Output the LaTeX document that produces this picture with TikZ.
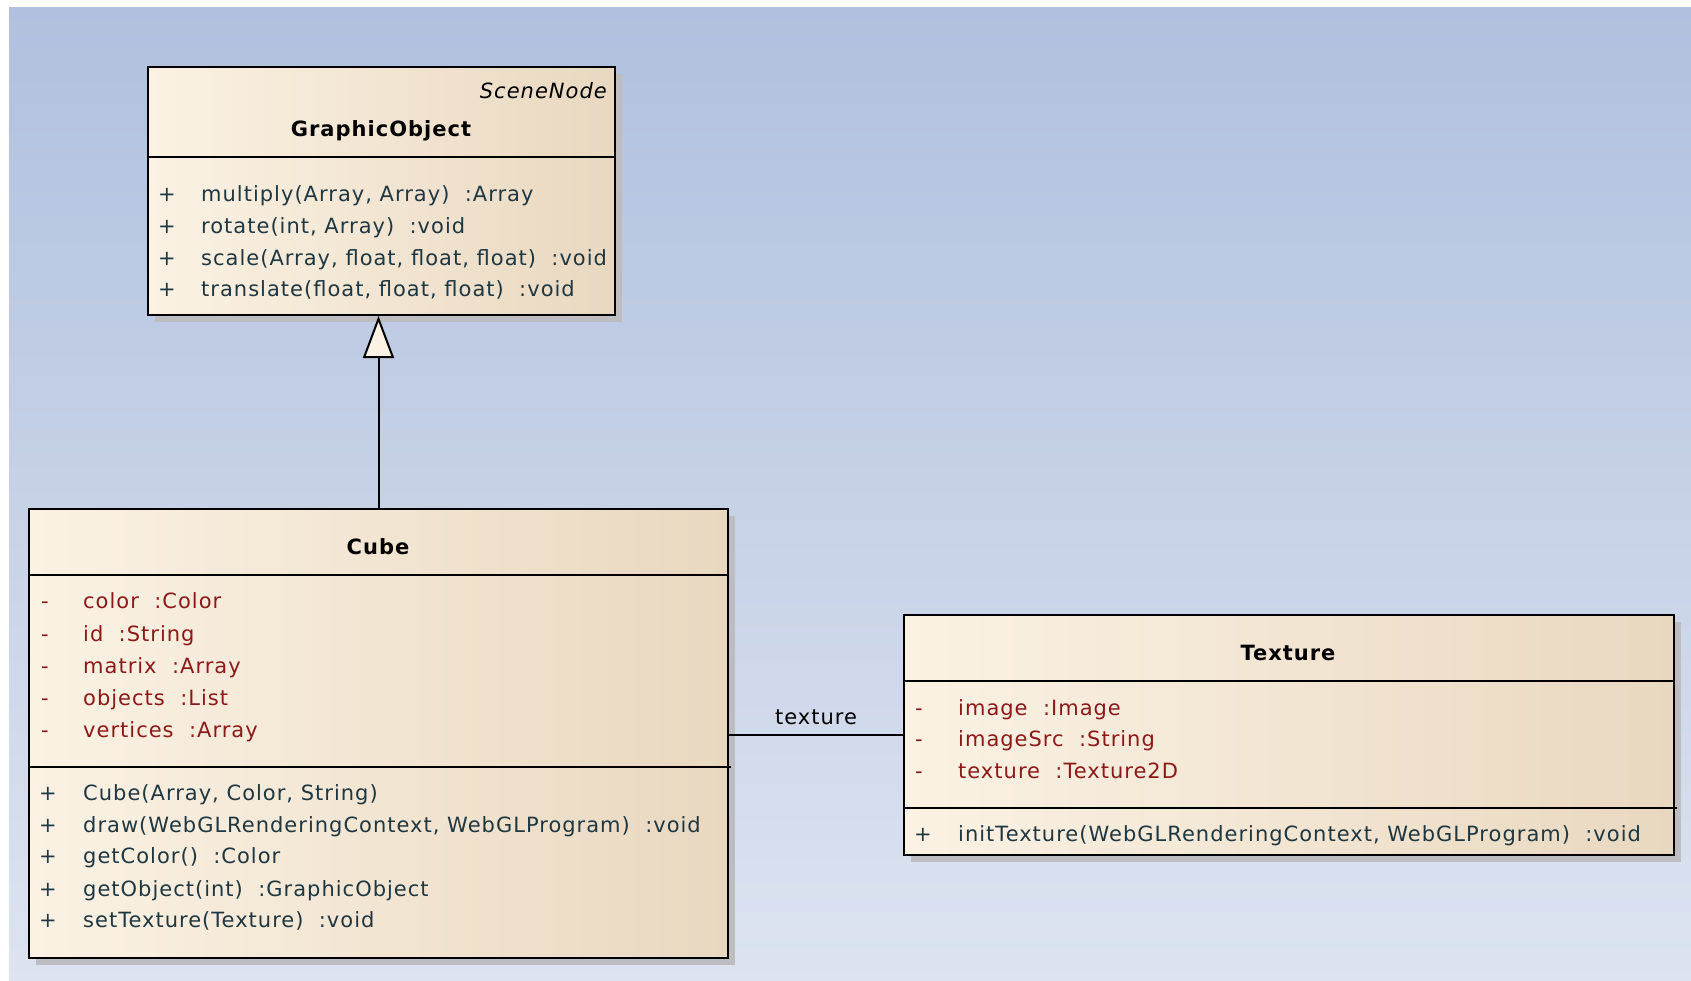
\documentclass[tikz,border=0pt]{standalone}
\usepackage{fontspec}
\setmainfont{DejaVu Sans}[LetterSpace=4.8]
\usetikzlibrary{arrows.meta,shadows}
\definecolor{bgtop}{RGB}{176,192,222}
\definecolor{bgbot}{RGB}{221,227,240}
\definecolor{boxl}{RGB}{251,242,228}
\definecolor{boxr}{RGB}{233,216,192}
\definecolor{attrc}{RGB}{140,25,25}
\definecolor{methc}{RGB}{30,55,65}
\definecolor{shadowc}{RGB}{188,188,193}
\newcommand\umlsize{\fontsize{21}{25}\selectfont}
\tikzset{
  classbox/.style={draw=black, line width=2pt, rectangle, inner sep=0pt,
    left color=boxl, right color=boxr,
    drop shadow={shadow xshift=7pt, shadow yshift=-7pt, fill=shadowc, opacity=1}},
  sepline/.style={draw=black, line width=2pt},
  txt/.style={inner sep=0pt, font=\umlsize, yshift=-5.5pt},
  attr/.style={txt, anchor=mid west, text=attrc},
  meth/.style={txt, anchor=mid west, text=methc},
  vis/.style={txt, anchor=mid},
  ctitle/.style={txt, anchor=mid, font=\umlsize\bfseries},
  conn/.style={draw=black, line width=2pt},
}
\begin{document}
\begin{tikzpicture}[x=1pt,y=-1pt]
\useasboundingbox (0,0) rectangle (1691,980);
\fill[white] (0,0) rectangle (1691,980);
\shade[top color=bgtop, bottom color=bgbot] (9,7) rectangle (1691,980);

% GraphicObject
\node[classbox, minimum width=467pt, minimum height=248pt] (go) at (381.5,191) {};
\draw[sepline] (148,157) -- (615,157);
\node[txt, anchor=mid east, font=\umlsize\itshape] (goster) at (607,90) {SceneNode};
\node[ctitle] (gotitle) at (381,128) {GraphicObject};
\node[vis, text=methc] (gov1) at (167,193) {+};
\node[meth] (gom1) at (201,193) {multiply(Array, Array)\ \ :Array};
\node[vis, text=methc] (gov2) at (167,225) {+};
\node[meth] (gom2) at (201,225) {rotate(int, Array)\ \ :void};
\node[vis, text=methc] (gov3) at (167,257) {+};
\node[meth] (gom3) at (201,257) {scale(Array, float, float, float)\ \ :void};
\node[vis, text=methc] (gov4) at (167,288) {+};
\node[meth] (gom4) at (201,288) {translate(float, float, float)\ \ :void};

% Cube
\node[classbox, minimum width=699pt, minimum height=449pt] (cube) at (378.5,733.5) {};
\draw[sepline] (29,575) -- (728,575);
\draw[sepline] (29,767) -- (731,767);
\node[ctitle] (cubetitle) at (378,546) {Cube};
\node[vis, text=attrc] (cv1) at (45,600) {-};
\node[attr] (ca1) at (83,600) {color\ \ :Color};
\node[vis, text=attrc] (cv2) at (45,633) {-};
\node[attr] (ca2) at (83,633) {id\ \ :String};
\node[vis, text=attrc] (cv3) at (45,665) {-};
\node[attr] (ca3) at (83,665) {matrix\ \ :Array};
\node[vis, text=attrc] (cv4) at (45,697) {-};
\node[attr] (ca4) at (83,697) {objects\ \ :List};
\node[vis, text=attrc] (cv5) at (45,729) {-};
\node[attr] (ca5) at (83,729) {vertices\ \ :Array};
\node[vis, text=methc] (cp1) at (48,792) {+};
\node[meth] (cm1) at (83,792) {Cube(Array, Color, String)};
\node[vis, text=methc] (cp2) at (48,824) {+};
\node[meth] (cm2) at (83,824) {draw(WebGLRenderingContext, WebGLProgram)\ \ :void};
\node[vis, text=methc] (cp3) at (48,855) {+};
\node[meth] (cm3) at (83,855) {getColor()\ \ :Color};
\node[vis, text=methc] (cp4) at (48,888) {+};
\node[meth] (cm4) at (83,888) {getObject(int)\ \ :GraphicObject};
\node[vis, text=methc] (cp5) at (48,919) {+};
\node[meth] (cm5) at (83,919) {setTexture(Texture)\ \ :void};

% Texture
\node[classbox, minimum width=770pt, minimum height=240pt] (tex) at (1289,735) {};
\draw[sepline] (904,680.5) -- (1674,680.5);
\draw[sepline] (904,808) -- (1677,808);
\node[ctitle] (textitle) at (1288,652) {Texture};
\node[vis, text=attrc] (tv1) at (919,707) {-};
\node[attr] (ta1) at (958,707) {image\ \ :Image};
\node[vis, text=attrc] (tv2) at (919,738) {-};
\node[attr] (ta2) at (958,738) {imageSrc\ \ :String};
\node[vis, text=attrc] (tv3) at (919,770) {-};
\node[attr] (ta3) at (958,770) {texture\ \ :Texture2D};
\node[vis, text=methc] (tp1) at (923,833) {+};
\node[meth] (tm1) at (958,833) {initTexture(WebGLRenderingContext, WebGLProgram)\ \ :void};

% connectors
\draw[conn, -{Triangle[length=42pt, width=31pt, fill=boxl]}] (cube.north) -- (cube.north |- go.south);
\draw[conn] (cube.east |- tex.west) -- node[midway, anchor=mid, inner sep=0pt, yshift=13.5pt, font=\umlsize, text=black] (assoclbl) {texture} (tex.west);
\end{tikzpicture}
\end{document}
